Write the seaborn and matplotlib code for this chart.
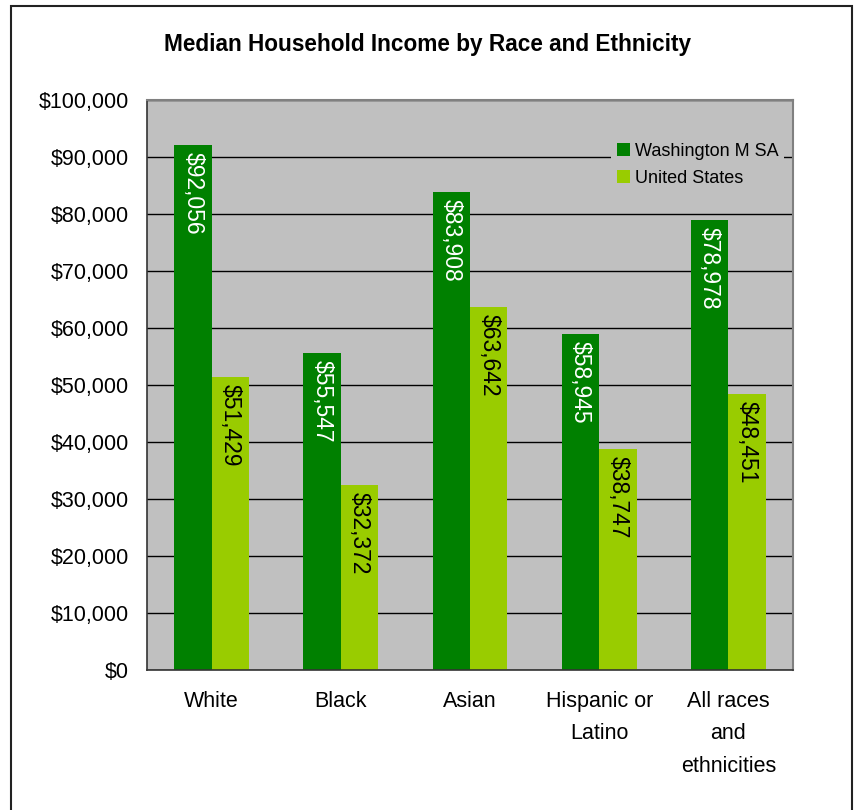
import matplotlib
matplotlib.use('Agg')
import matplotlib.pyplot as plt
import matplotlib.ticker as mticker
from matplotlib.patches import Rectangle, Patch
import seaborn as sns
import pandas as pd
import numpy as np

# data
groups = ['White', 'Black', 'Asian', 'Hispanic or\nLatino', 'All races\nand\nethnicities']
series = ['Washington M SA', 'United States']
washington = [92056, 55547, 83908, 58945, 78978]
united_states = [51429, 32372, 63642, 38747, 48451]
colors = ['#008000', '#99CC00']
label_colors = ['white', 'black']

df = pd.DataFrame({
    'group': groups * 2,
    'series': [series[0]] * len(groups) + [series[1]] * len(groups),
    'income': washington + united_states,
})

sns.set_style('white')
plt.rcParams['font.family'] = ['Liberation Sans', 'DejaVu Sans']
plt.rcParams.update({'text.color': 'black', 'xtick.color': 'black',
                     'ytick.color': 'black', 'axes.labelcolor': 'black'})

fig = plt.figure(figsize=(8.56, 8.10), dpi=100)
ax = fig.add_axes([147/856, 1 - 670/810, (793 - 147)/856, (670 - 100)/810])

sns.barplot(data=df, x='group', y='income', hue='series', order=groups,
            hue_order=series, palette=colors, width=0.58, saturation=1,
            linewidth=0, ax=ax, legend=False)

ax.set_facecolor('#C0C0C0')
ax.set_ylim(0, 100000)
ax.set_xlim(-0.5, len(groups) - 0.5)
ax.yaxis.set_major_locator(mticker.MultipleLocator(10000))
ax.yaxis.set_major_formatter(mticker.FuncFormatter(lambda v, p: f"${v:,.0f}"))
ax.grid(axis='y', color='black', linewidth=1)
ax.set_axisbelow(True)
ax.set_xlabel('')
ax.set_ylabel('')

# category labels centred, tick marks at category borders
ax.set_xticks(range(len(groups)))
ax.set_xticklabels(groups, fontsize=15.5, linespacing=1.72, va='top')
ax.tick_params(axis='x', which='major', length=0, pad=15)
ax.set_xticks(np.arange(-0.5, len(groups) + 0.5), minor=True)
ax.tick_params(axis='x', which='minor', length=6, width=1, color='black')
ax.tick_params(axis='y', length=6, width=1, color='black', labelsize=15.5, pad=7)

for side in ['left', 'bottom']:
    ax.spines[side].set_color('#333333')
    ax.spines[side].set_linewidth(1.2)
for side in ['top', 'right']:
    ax.spines[side].set_color('#808080')
    ax.spines[side].set_linewidth(1.5)

# value labels inside bars, reading downwards
for container, lc in zip(ax.containers, label_colors):
    for bar in container:
        h = bar.get_height()
        ax.annotate(f"${h:,.0f}", (bar.get_x() + bar.get_width() / 2, h),
                    xytext=(0, -5), textcoords='offset points',
                    rotation=270, ha='center', va='top',
                    color=lc, fontsize=16.5)

handles = [Patch(facecolor=c, edgecolor='none') for c in colors]
leg = ax.legend(handles, series, loc='upper right', bbox_to_anchor=(1.0, 0.95),
                frameon=True, fontsize=13, handlelength=0.7, handleheight=0.7,
                handletextpad=0.3, labelspacing=0.55, borderpad=0.3)
leg.get_frame().set_facecolor('#C0C0C0')
leg.get_frame().set_edgecolor('none')
leg.get_frame().set_alpha(1)

fig.text(0.5, 1 - 45/810, 'Median Household Income by Race and Ethnicity',
         ha='center', va='center', fontsize=16.3, fontweight='bold')

# outer chart border (bottom edge runs off the image)
fig.patches.append(Rectangle((11/856, -0.02), 841/856, 1.02 - 6/810,
                             transform=fig.transFigure, fill=False,
                             edgecolor='#222222', linewidth=1.5))

fig.savefig('out.png', dpi=100)
